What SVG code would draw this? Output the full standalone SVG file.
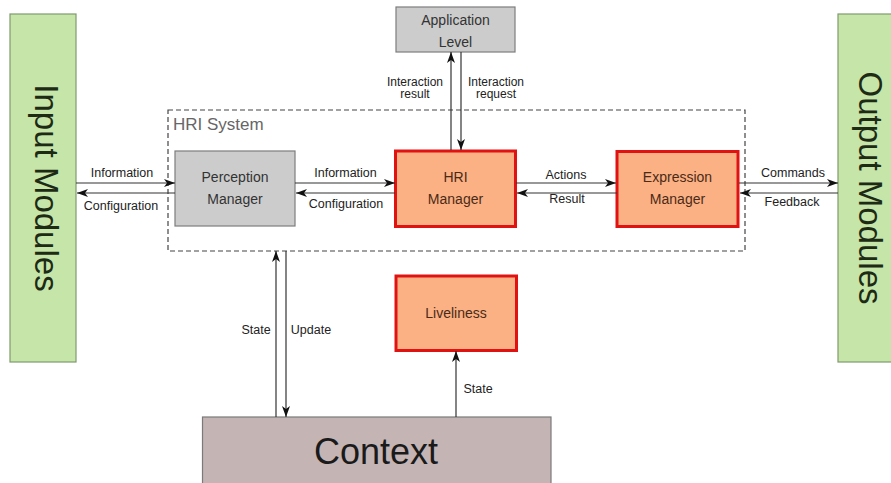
<svg xmlns="http://www.w3.org/2000/svg" width="891" height="483" viewBox="0 0 891 483">
  <defs>
    <marker id="arrow" markerUnits="userSpaceOnUse" markerWidth="12" markerHeight="9" refX="11" refY="4.5" orient="auto">
      <path d="M0,0.5 L11,4.5 L0,8.5 L3,4.5 z" fill="#111"/>
    </marker>
    <style>
      .module { fill: #c6e5a9; stroke: #7f9a6e; stroke-width: 1.2; }
      .module-text { font-family: "Liberation Sans", Arial, sans-serif; font-size: 33px; fill: #1d2a14; text-anchor: middle; }
      .grey { fill: #cccccc; stroke: #7d7d7d; stroke-width: 1.2; }
      .core { fill: #fbb183; stroke: #e01212; stroke-width: 3; }
      .context { fill: #c4b4b4; stroke: #7a7a7a; stroke-width: 1.2; }
      .node-text { font-family: "Liberation Sans", Arial, sans-serif; font-size: 14px; fill: #333; text-anchor: middle; }
      .core-text { font-family: "Liberation Sans", Arial, sans-serif; font-size: 14px; fill: #4a2a18; text-anchor: middle; }
      .label { font-family: "Liberation Sans", Arial, sans-serif; font-size: 12.5px; fill: #222; text-anchor: middle; }
      .label-sm { font-family: "Liberation Sans", Arial, sans-serif; font-size: 12px; fill: #222; text-anchor: middle; }
      .link { stroke: #333; stroke-width: 1.2; fill: none; marker-end: url(#arrow); }
      .system { fill: none; stroke: #444; stroke-width: 1.2; stroke-dasharray: 5 3; }
    </style>
  </defs>
  <rect width="891" height="483" fill="#ffffff"/>

  <!-- HRI System boundary -->
  <g id="hri-system">
    <rect class="system" x="168" y="110" width="577" height="141"/>
    <text x="173" y="129.5" font-family="'Liberation Sans', Arial, sans-serif" font-size="17" fill="#666">HRI System</text>
  </g>

  <g id="input-modules">
    <rect class="module" x="10" y="14" width="66" height="348"/>
    <text class="module-text" transform="translate(35,188) rotate(90)">Input Modules</text>
  </g>

  <g id="output-modules">
    <rect class="module" x="838" y="14" width="60" height="348"/>
    <text class="module-text" transform="translate(859,188) rotate(90)">Output Modules</text>
  </g>

  <g id="application-level">
    <rect class="grey" x="396" y="7" width="119" height="45"/>
    <text class="node-text" x="455.5" y="25">Application</text>
    <text class="node-text" x="455.5" y="46.5">Level</text>
  </g>

  <g id="perception-manager">
    <rect class="grey" x="175" y="151" width="120" height="75"/>
    <text class="node-text" x="235" y="182">Perception</text>
    <text class="node-text" x="235" y="204">Manager</text>
  </g>

  <g id="hri-manager">
    <rect class="core" x="395.5" y="151" width="120" height="75.5"/>
    <text class="core-text" x="455.5" y="182">HRI</text>
    <text class="core-text" x="455.5" y="204">Manager</text>
  </g>

  <g id="expression-manager">
    <rect class="core" x="617" y="151.5" width="121" height="75"/>
    <text class="core-text" x="677.5" y="182">Expression</text>
    <text class="core-text" x="677.5" y="204">Manager</text>
  </g>

  <g id="liveliness">
    <rect class="core" x="396" y="276" width="120.5" height="74.5"/>
    <text class="core-text" x="456" y="318">Liveliness</text>
  </g>

  <g id="context">
    <rect class="context" x="202.5" y="417" width="348.5" height="70"/>
    <text x="376" y="464" font-family="'Liberation Sans', Arial, sans-serif" font-size="36" fill="#1a1a1a" text-anchor="middle">Context</text>
  </g>

  <!-- Connectors -->
  <g id="connectors">
    <line class="link" x1="76" y1="183" x2="175" y2="183"/>
    <line class="link" x1="175" y1="193" x2="77" y2="193"/>
    <line class="link" x1="295" y1="183" x2="395" y2="183"/>
    <line class="link" x1="395" y1="193" x2="296" y2="193"/>
    <line class="link" x1="516" y1="183" x2="616" y2="183"/>
    <line class="link" x1="617" y1="193" x2="517" y2="193"/>
    <line class="link" x1="739" y1="183" x2="838" y2="183"/>
    <line class="link" x1="838" y1="193" x2="740" y2="193"/>
    <line class="link" x1="451" y1="150" x2="451" y2="52"/>
    <line class="link" x1="461" y1="52" x2="461" y2="150"/>
    <line class="link" x1="276" y1="417" x2="276" y2="251"/>
    <line class="link" x1="286" y1="251" x2="286" y2="417"/>
    <line class="link" x1="456" y1="417" x2="456" y2="351"/>

    <text class="label" x="122" y="177">Information</text>
    <text class="label" x="121" y="210">Configuration</text>
    <text class="label" x="345.5" y="177">Information</text>
    <text class="label" x="346" y="208">Configuration</text>
    <text class="label" x="566" y="179">Actions</text>
    <text class="label" x="567" y="203">Result</text>
    <text class="label" x="793" y="177">Commands</text>
    <text class="label" x="792" y="206">Feedback</text>
    <text class="label-sm" x="415" y="85.5">Interaction</text>
    <text class="label-sm" x="415" y="98">result</text>
    <text class="label-sm" x="496" y="85.5">Interaction</text>
    <text class="label-sm" x="496" y="98">request</text>
    <text class="label" x="256" y="334">State</text>
    <text class="label" x="311" y="334">Update</text>
    <text class="label" x="478" y="393">State</text>
  </g>
</svg>
